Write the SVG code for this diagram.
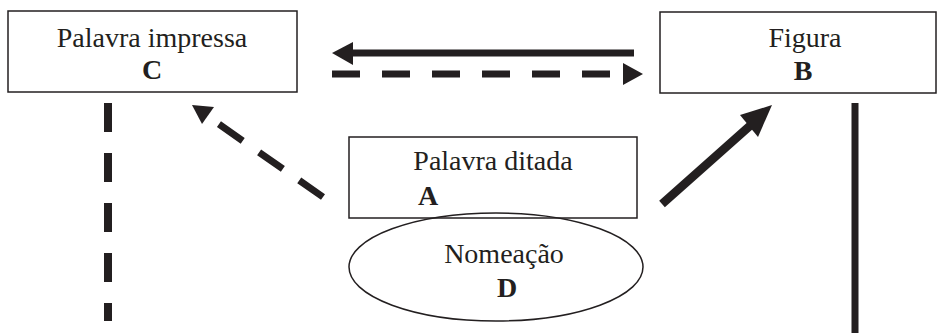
<svg xmlns="http://www.w3.org/2000/svg" width="938" height="333" viewBox="0 0 938 333">
<style>
.box{fill:none;stroke:#231f20;stroke-width:1.5}
.t{font-family:"Liberation Serif","Times New Roman",serif;font-size:28px;fill:#231f20;text-anchor:middle}
.b{font-weight:bold}
.solid{stroke:#231f20;stroke-width:7;fill:none}
.dash{stroke:#231f20;stroke-width:7;fill:none;stroke-dasharray:28 22}
.vdash{stroke:#231f20;stroke-width:8;fill:none;stroke-dasharray:29 21}
.head{fill:#231f20}
</style>
<rect width="938" height="333" fill="#fff"/>
<g id="connectors">
  <line class="solid" x1="634" y1="53" x2="350" y2="53"/>
  <polygon class="head" points="332,53 353,42 353,65"/>
  <line class="dash" x1="332" y1="74" x2="612" y2="74"/>
  <polygon class="head" points="643,74 623,63 623,85"/>
  <line class="dash" x1="323" y1="197" x2="213" y2="120" stroke-dashoffset="0" style="stroke-dasharray:29 20"/>
  <polygon class="head" points="192,105 202,124 214,107"/>
  <line class="solid" x1="662" y1="204" x2="752" y2="124" style="stroke-width:8.5"/>
  <polygon class="head" points="772,105 740,115 758,137"/>
  <line class="vdash" x1="108" y1="103" x2="108" y2="321"/>
  <line class="solid" x1="855" y1="103" x2="855" y2="333"/>
</g>
<g id="nodeC">
  <rect class="box" x="8" y="11" width="289" height="81"/>
  <text class="t" x="152" y="47">Palavra impressa</text>
  <text class="t b" x="152" y="79">C</text>
</g>
<g id="nodeB">
  <rect class="box" x="660" y="12" width="276" height="81"/>
  <text class="t" x="805" y="47">Figura</text>
  <text class="t b" x="803" y="80">B</text>
</g>
<g id="nodeA">
  <rect class="box" x="349" y="137" width="288" height="81"/>
  <text class="t" x="493" y="170">Palavra ditada</text>
  <text class="t b" x="428" y="205">A</text>
</g>
<g id="nodeD">
  <ellipse class="box" cx="496" cy="267" rx="147" ry="54"/>
  <text class="t" x="504" y="263">Nomeação</text>
  <text class="t b" x="507" y="297">D</text>
</g>
</svg>
